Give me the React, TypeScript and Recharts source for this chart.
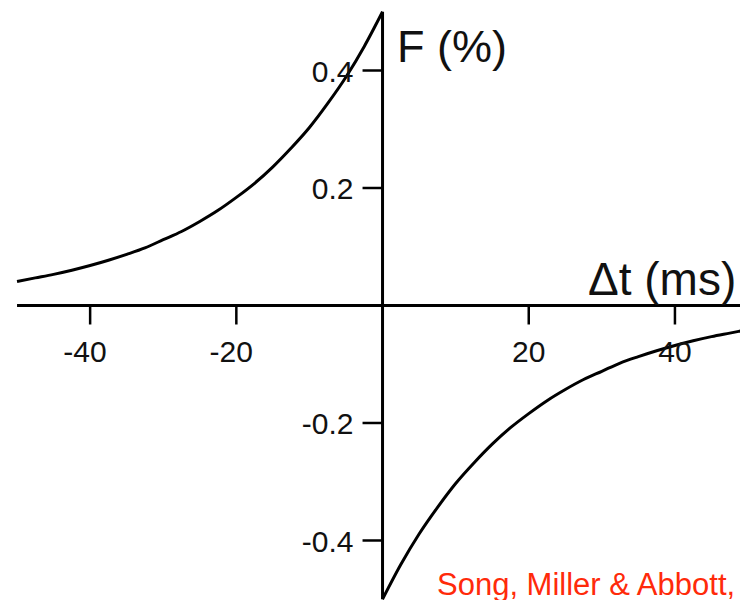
import { LineChart, Line, XAxis, YAxis, ReferenceLine, ReferenceDot } from "recharts";

// STDP window: potentiation for pre-before-post (Δt < 0), depression after.
const ltpT = [-50, -47.5, -45, -42.5, -40, -37.5, -35, -32.5, -30, -27.5, -25, -22.5, -20, -17.5, -15, -12.5, -10, -7.5, -5, -2.5, 0];
const ltpF = [0.041, 0.047, 0.053, 0.06, 0.068, 0.077, 0.087, 0.098, 0.112, 0.126, 0.143, 0.162, 0.184, 0.208, 0.236, 0.268, 0.303, 0.344, 0.389, 0.441, 0.5];
const ltdT = [0, 2.5, 5, 7.5, 10, 12.5, 15, 17.5, 20, 22.5, 25, 27.5, 30, 32.5, 35, 37.5, 40, 42.5, 45, 47.5, 50];
const ltdF = [-0.5, -0.441, -0.389, -0.344, -0.303, -0.268, -0.236, -0.208, -0.184, -0.162, -0.143, -0.126, -0.112, -0.098, -0.087, -0.077, -0.068, -0.06, -0.053, -0.047, -0.041];

const xTicks = [-40, -20, 20, 40];
const yTicks = [0.4, 0.2, -0.2, -0.4];
const yTickLabels = ["0.4", "0.2", "-0.2", "-0.4"];

const ltp = ltpT.map((t, i) => ({ t, f: ltpF[i] }));
const ltd = ltdT.map((t, i) => ({ t, f: ltdF[i] }));

const X_DOMAIN: [number, number] = [-52.33, 48.9];
const Y_DOMAIN: [number, number] = [-0.5013, 0.52];

const FONT = "'Liberation Sans', Arial, Helvetica, sans-serif";

function XTick({ cx, cy, label }: any) {
  const neg = label.startsWith("-");
  return (
    <g>
      <line x1={cx} y1={cy} x2={cx} y2={cy + 19} stroke="#000" strokeWidth={2.5} />
      <text
        x={neg ? cx + 16.5 : cx}
        y={cy + 57}
        textAnchor={neg ? "end" : "middle"}
        fontSize={30}
        fontFamily={FONT}
        fill="#111"
      >
        {label}
      </text>
    </g>
  );
}

function YTick({ cx, cy, label }: any) {
  return (
    <g>
      <line x1={cx - 20} y1={cy} x2={cx} y2={cy} stroke="#000" strokeWidth={2.5} />
      <text x={cx - 29} y={cy + 11.5} textAnchor="end" fontSize={30} fontFamily={FONT} fill="#111">
        {label}
      </text>
    </g>
  );
}

export default function App() {
  return (
    <div style={{ position: "absolute", left: 0, top: 0, width: 740, height: 600, background: "#fff" }}>
      <LineChart width={740} height={600} margin={{ top: 0, right: 0, bottom: 0, left: 0 }}>
        <XAxis type="number" dataKey="t" domain={X_DOMAIN} allowDataOverflow hide />
        <YAxis type="number" dataKey="f" domain={Y_DOMAIN} allowDataOverflow hide />

        <ReferenceLine segment={[{ x: -50, y: 0 }, { x: X_DOMAIN[1], y: 0 }]} stroke="#000" strokeWidth={3} />
        <ReferenceLine segment={[{ x: 0, y: -0.5 }, { x: 0, y: 0.5 }]} stroke="#000" strokeWidth={3} />

        {xTicks.map((t) => (
          <ReferenceDot key={`x${t}`} x={t} y={0} r={0} shape={(p: any) => <XTick {...p} label={String(t)} />} />
        ))}
        {yTicks.map((v, i) => (
          <ReferenceDot key={`y${v}`} x={0} y={v} r={0} shape={(p: any) => <YTick {...p} label={yTickLabels[i]} />} />
        ))}

        <Line data={ltp} dataKey="f" type="monotone" stroke="#000" strokeWidth={3} strokeLinecap="butt"
          dot={false} activeDot={false} isAnimationActive={false} />
        <Line data={ltd} dataKey="f" type="monotone" stroke="#000" strokeWidth={3} strokeLinecap="butt"
          dot={false} activeDot={false} isAnimationActive={false} />
      </LineChart>

      <svg width={740} height={600} style={{ position: "absolute", left: 0, top: 0, pointerEvents: "none" }}>
        <text x={397} y={62} fontSize={45} fontFamily={FONT} fill="#111">F (%)</text>
        <text x={588} y={295} fontSize={46} fontFamily={FONT} fill="#111">Δt (ms)</text>
        <text x={437} y={595} fontSize={31} fontFamily={FONT} fill="#ff2a0a">Song, Miller &amp; Abbott,</text>
      </svg>
    </div>
  );
}
